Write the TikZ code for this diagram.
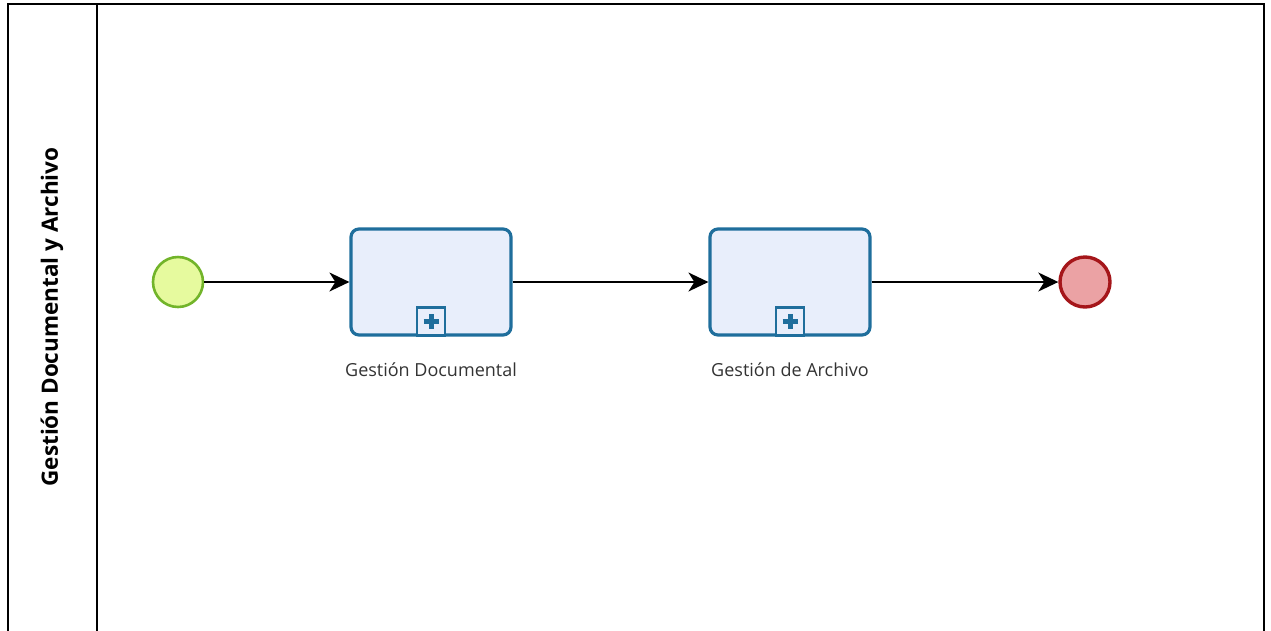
\documentclass[tikz,border=0pt]{standalone}
\usepackage{fontspec}
\setmainfont{Open Sans}
\usetikzlibrary{arrows.meta, positioning}
\definecolor{taskblue}{HTML}{1F6E9C}
\definecolor{taskfill}{HTML}{E8EEFB}
\definecolor{startline}{HTML}{72B42A}
\definecolor{startfill}{HTML}{E6FA9E}
\definecolor{endline}{HTML}{A5161A}
\definecolor{endfill}{HTML}{EBA2A4}

\begin{document}
\begin{tikzpicture}[x=1pt, y=-1pt,
    event/.style={circle, inner sep=0pt, minimum size=50pt},
    subproc/.style={draw=taskblue, fill=taskfill, line width=3.2pt,
      rounded corners=8pt, minimum width=160pt, minimum height=106pt},
    marker/.style={draw=taskblue, fill=taskfill, line width=2.6pt,
      minimum size=28pt, inner sep=0pt},
    flow/.style={-{Stealth[length=20pt,width=19pt,inset=6pt]}, line width=1.6pt},
    tasklabel/.style={font=\fontsize{18}{21}\selectfont, text=black!80}]
  \useasboundingbox (0,0) rectangle (1271,630);
  % pool and lane
  \draw[line width=2pt] (8,631) -- (8,4) -- (1264,4) -- (1264,631);
  \draw[line width=2pt] (97,4) -- (97,631);
  \node[rotate=90, font=\bfseries\fontsize{22.5}{26}\selectfont] (lane) at (52,317) {Gestión Documental y Archivo};
  % events and sub-processes
  \node[event, draw=startline, fill=startfill, line width=2.6pt] (start) at (178,282) {};
  \node[subproc] (gdoc) at (431,282) {};
  \node[subproc] (garch) at (790,282) {};
  \node[event, draw=endline, fill=endfill, line width=3.4pt] (end) at (1085,282) {};
  \node[marker, anchor=south] (mdoc) at (gdoc.south) {};
  \node[marker, anchor=south] (march) at (garch.south) {};
  \foreach \m in {mdoc, march} {
    \draw[taskblue, line width=5pt] ([xshift=-7.5pt]\m.center) -- ([xshift=7.5pt]\m.center);
    \draw[taskblue, line width=5pt] ([yshift=-7.5pt]\m.center) -- ([yshift=7.5pt]\m.center);
  }
  \node[tasklabel] (ldoc) at (431,370) {Gestión Documental};
  \node[tasklabel] (larch) at (790,370) {Gestión de Archivo};
  % sequence flows
  \draw[flow] (start) -- (gdoc);
  \draw[flow] (gdoc) -- (garch);
  \draw[flow] (garch) -- (end);
\end{tikzpicture}
\end{document}
